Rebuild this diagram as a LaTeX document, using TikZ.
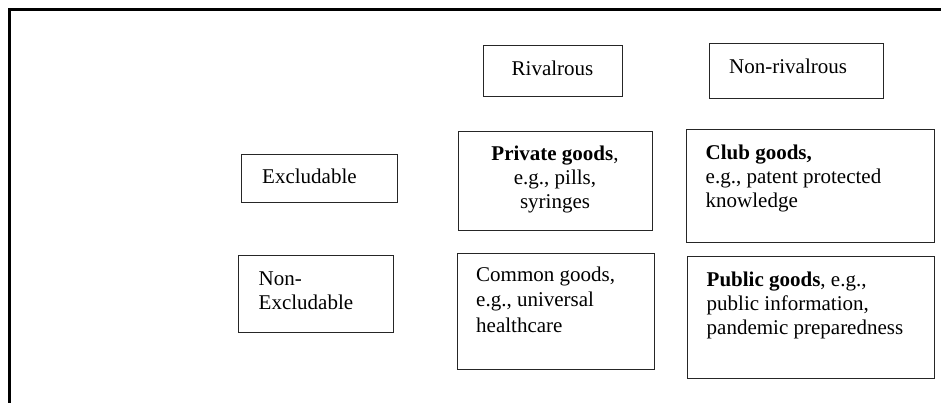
\documentclass[tikz,border=0pt]{standalone}
\usepackage{fontspec}
\setmainfont{Liberation Serif}
\begin{document}
\begin{tikzpicture}[x=1pt,y=-1pt]
\tikzset{
  box/.style={draw=black!85, line width=1.3pt, inner sep=0pt, anchor=north west},
  lbl/.style={inner sep=0pt, font=\fontsize{21}{24}\selectfont},
  mlbl/.style={lbl, align=left, anchor=north west},
}
\useasboundingbox (0,0) rectangle (941,402);
\clip (0,0) rectangle (941,402);
% outer frame (only top and left edges visible)
\draw[line width=2.7pt, line cap=rect] (960,9.7) -- (9.7,9.7) -- (9.7,420);
% boxes
\node[box, minimum width=139pt, minimum height=51.5pt] (rivB) at (483,44.5) {};
\node[box, minimum width=174pt, minimum height=54.5pt] (nonrivB) at (708.5,43) {};
\node[box, minimum width=156pt, minimum height=48pt] (exclB) at (241,154) {};
\node[box, minimum width=155pt, minimum height=77pt] (nexclB) at (238,255) {};
\node[box, minimum width=194pt, minimum height=99pt] (privB) at (458,131) {};
\node[box, minimum width=248pt, minimum height=113pt] (clubB) at (686,129) {};
\node[box, minimum width=197pt, minimum height=116pt] (commB) at (457,253) {};
\node[box, minimum width=247pt, minimum height=122pt] (pubB) at (687,256) {};
% texts
\node[lbl, anchor=base] (rivT) at (552.5,75) {Rivalrous};
\node[lbl, anchor=base west] (nonrivT) at (729,73.5) {Non-rivalrous};
\node[lbl, anchor=base west] (exclT) at (262,183) {Excludable};
\node[mlbl] (nexclT) at (258.5,268.9) {\strut Non-\\Excludable};
\node[lbl, align=center, anchor=north] (privT) at (555,143.9) {\strut\textbf{Private goods},\\e.g., pills,\\syringes};
\node[mlbl] (clubT) at (705.5,142.5) {\strut\textbf{Club goods,}\\e.g., patent protected\\knowledge};
\node[mlbl, font=\fontsize{21}{25.5}\selectfont] (commT) at (476,263.2) {\strut Common goods,\\e.g., universal\\healthcare};
\node[mlbl] (pubT) at (706.5,269.9) {\strut\textbf{Public goods}, e.g.,\\public information,\\pandemic preparedness};
\end{tikzpicture}
\end{document}
